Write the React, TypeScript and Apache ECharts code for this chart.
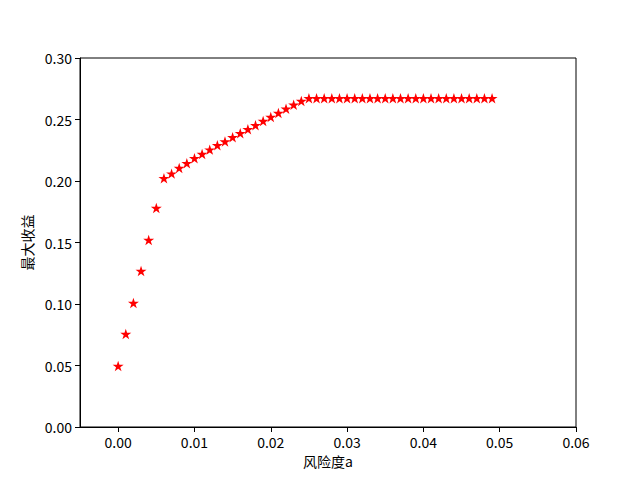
import React, { useEffect, useRef } from "react";
import * as echarts from "echarts";

const riskLevels = [
  0.0, 0.001, 0.002, 0.003, 0.004, 0.005, 0.006, 0.007, 0.008, 0.009,
  0.01, 0.011, 0.012, 0.013, 0.014, 0.015, 0.016, 0.017, 0.018, 0.019,
  0.02, 0.021, 0.022, 0.023, 0.024, 0.025, 0.026, 0.027, 0.028, 0.029,
  0.03, 0.031, 0.032, 0.033, 0.034, 0.035, 0.036, 0.037, 0.038, 0.039,
  0.04, 0.041, 0.042, 0.043, 0.044, 0.045, 0.046, 0.047, 0.048, 0.049,
];
const maxReturns = [
  0.0496, 0.0756, 0.1008, 0.1268, 0.152, 0.178, 0.2022, 0.206, 0.2105, 0.2145,
  0.2185, 0.222, 0.2255, 0.229, 0.2322, 0.2355, 0.2388, 0.242, 0.2453, 0.2487,
  0.252, 0.2553, 0.2587, 0.262, 0.265, 0.2672, 0.2672, 0.2672, 0.2672, 0.2672,
  0.2672, 0.2672, 0.2672, 0.2672, 0.2672, 0.2672, 0.2672, 0.2672, 0.2672, 0.2672,
  0.2672, 0.2672, 0.2672, 0.2672, 0.2672, 0.2672, 0.2672, 0.2672, 0.2672, 0.2672,
];
const xTicks = [0, 0.01, 0.02, 0.03, 0.04, 0.05, 0.06];
const yTicks = [0, 0.05, 0.1, 0.15, 0.2, 0.25, 0.3];

const STAR =
  "path://M50 0 L61.17 34.63 L97.55 34.55 L68.07 55.87 L79.39 90.45 L50 69 L20.61 90.45 L31.93 55.87 L2.45 34.55 L38.83 34.63 Z";

const FONT = "'Noto Sans CJK SC', 'DejaVu Sans', sans-serif";

export default function App() {
  const ref = useRef<HTMLDivElement>(null);
  useEffect(() => {
    if (!ref.current) return;
    const chart = echarts.init(ref.current, null, { renderer: "svg" });
    const axisCommon = {
      axisLine: { show: true, onZero: false, lineStyle: { color: "#000", width: 1 } },
      splitLine: { show: false },
      nameTextStyle: { color: "#000", fontSize: 14, fontFamily: FONT },
    };
    chart.setOption({
      animation: false,
      backgroundColor: "#fff",
      grid: {
        left: 80,
        right: 64,
        top: 58,
        bottom: 53,
        show: true,
        borderColor: "#000",
        borderWidth: 1,
        containLabel: false,
      },
      xAxis: {
        ...axisCommon,
        type: "value",
        min: -0.005,
        max: 0.06,
        name: "风险度a",
        nameLocation: "middle",
        nameGap: 25,
        axisTick: { show: true, inside: false, length: 5, customValues: xTicks, lineStyle: { color: "#000" } },
        axisLabel: {
          customValues: xTicks,
          color: "#000",
          fontSize: 14,
          fontFamily: FONT,
          margin: 8,
          formatter: (v: number) => v.toFixed(2),
        },
      },
      yAxis: {
        ...axisCommon,
        type: "value",
        min: 0,
        max: 0.3,
        interval: 0.05,
        name: "最大收益",
        nameLocation: "middle",
        nameGap: 43,
        axisTick: { show: true, inside: false, length: 5, lineStyle: { color: "#000" } },
        axisLabel: {
          color: "#000",
          fontSize: 14,
          fontFamily: FONT,
          margin: 8,
          customValues: yTicks,
          formatter: (v: number) => v.toFixed(2),
        },
      },
      series: [
        {
          type: "scatter",
          data: riskLevels.map((a, i) => [a, maxReturns[i]]),
          symbol: STAR,
          symbolSize: 11,
          symbolKeepAspect: true,
          itemStyle: { color: "#ff0000", opacity: 1 },
        },
      ],
    });
    return () => chart.dispose();
  }, []);
  return (
    <div
      ref={ref}
      style={{ position: "fixed", left: 0, top: 0, width: 640, height: 480 }}
    />
  );
}
